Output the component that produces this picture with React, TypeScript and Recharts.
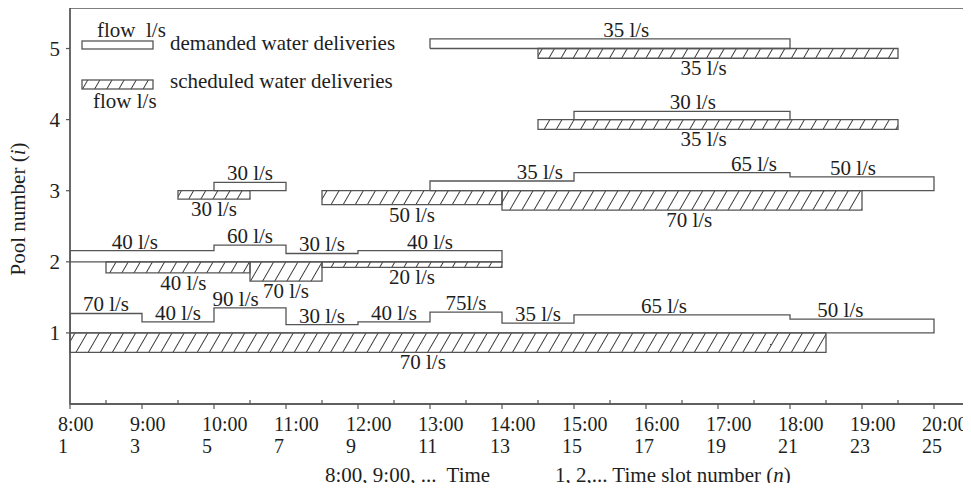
import React from 'react';
import {
  ComposedChart,
  XAxis,
  YAxis,
  Line,
  Scatter,
  ReferenceArea,
  Legend,
  Label,
} from 'recharts';

// time slot boundaries (slot n starts at 8:00 + (n-1) * 30 min)
const slotTicks = [1, 2, 3, 4, 5, 6, 7, 8, 9, 10, 11, 12, 13, 14, 15, 16, 17, 18, 19, 20, 21, 22, 23, 24, 25];
const hourLabels = ['8:00', '9:00', '10:00', '11:00', '12:00', '13:00', '14:00', '15:00', '16:00', '17:00', '18:00', '19:00', '20:00'];
const poolTicks = [1, 2, 3, 4, 5];

type Seg = { from: number; to: number; flow: number; text: string; at?: number };

// demanded water deliveries (drawn above the pool line)
const demandedPool1: Seg[] = [
  { from: 1, to: 3, flow: 70, text: '70 l/s' },
  { from: 3, to: 5, flow: 40, text: '40 l/s' },
  { from: 5, to: 7, flow: 90, text: '90 l/s', at: 5.6 },
  { from: 7, to: 9, flow: 30, text: '30 l/s' },
  { from: 9, to: 11, flow: 40, text: '40 l/s' },
  { from: 11, to: 13, flow: 75, text: '75l/s' },
  { from: 13, to: 15, flow: 35, text: '35 l/s' },
  { from: 15, to: 21, flow: 65, text: '65 l/s', at: 17.5 },
  { from: 21, to: 25, flow: 50, text: '50 l/s', at: 22.4 },
];
const demandedPool2: Seg[] = [
  { from: 1, to: 5, flow: 40, text: '40 l/s', at: 2.8 },
  { from: 5, to: 7, flow: 60, text: '60 l/s' },
  { from: 7, to: 9, flow: 30, text: '30 l/s' },
  { from: 9, to: 13, flow: 40, text: '40 l/s' },
];
const demandedPool3: Seg[] = [
  { from: 5, to: 7, flow: 30, text: '30 l/s' },
  { from: 11, to: 15, flow: 35, text: '35 l/s', at: 14.05 },
  { from: 15, to: 21, flow: 65, text: '65 l/s', at: 20 },
  { from: 21, to: 25, flow: 50, text: '50 l/s', at: 22.75 },
];
const demandedPool4: Seg[] = [{ from: 15, to: 21, flow: 30, text: '30 l/s', at: 18.3 }];
const demandedPool5: Seg[] = [{ from: 11, to: 21, flow: 35, text: '35 l/s', at: 16.45 }];

// scheduled water deliveries (hatched, below the pool line)
const scheduledPool1: Seg[] = [{ from: 1, to: 22, flow: 70, text: '70 l/s', at: 10.8 }];
const scheduledPool2: Seg[] = [
  { from: 2, to: 6, flow: 40, text: '40 l/s', at: 4.15 },
  { from: 6, to: 8, flow: 70, text: '70 l/s' },
  { from: 8, to: 13, flow: 20, text: '20 l/s' },
];
const scheduledPool3: Seg[] = [
  { from: 4, to: 6, flow: 30, text: '30 l/s' },
  { from: 8, to: 13, flow: 50, text: '50 l/s' },
  { from: 13, to: 23, flow: 70, text: '70 l/s', at: 18.2 },
];
const scheduledPool4: Seg[] = [{ from: 14, to: 24, flow: 35, text: '35 l/s', at: 18.6 }];
const scheduledPool5: Seg[] = [{ from: 14, to: 24, flow: 35, text: '35 l/s', at: 18.6 }];

const demanded = [demandedPool1, demandedPool2, demandedPool3, demandedPool4, demandedPool5];
const scheduled = [scheduledPool1, scheduledPool2, scheduledPool3, scheduledPool4, scheduledPool5];

const FLOW_TO_POOL = 0.0039; // pool units per l/s
const Y_TOP = 5.57;
const INK = '#1e1e1e';
const EDGE = '#555';
const FONT = '"Liberation Serif", "Times New Roman", serif';

// step outlines: one closed polygon for each run of adjacent segments
const outlines: { x: number; y: number }[][] = [];
demanded.forEach((segs, i) => {
  const pool = i + 1;
  let run: Seg[] = [];
  const flush = () => {
    if (!run.length) return;
    const pts = [{ x: run[0].from, y: pool }];
    run.forEach((s) => {
      pts.push({ x: s.from, y: pool + s.flow * FLOW_TO_POOL });
      pts.push({ x: s.to, y: pool + s.flow * FLOW_TO_POOL });
    });
    pts.push({ x: run[run.length - 1].to, y: pool });
    pts.push({ x: run[0].from, y: pool });
    outlines.push(pts);
    run = [];
  };
  segs.forEach((s) => {
    if (run.length && run[run.length - 1].to !== s.from) flush();
    run.push(s);
  });
  flush();
});

const flowLabels = [
  ...demanded.flatMap((segs, i) =>
    segs.map((s) => ({ x: s.at ?? (s.from + s.to) / 2, y: i + 1 + s.flow * FLOW_TO_POOL, text: s.text, up: true }))
  ),
  ...scheduled.flatMap((segs, i) =>
    segs.map((s) => ({ x: s.at ?? (s.from + s.to) / 2, y: i + 1 - s.flow * FLOW_TO_POOL, text: s.text, up: false }))
  ),
];

const FlowLabel = (props: any) => {
  const { cx, cy, payload } = props;
  return (
    <text
      x={cx}
      y={payload.up ? cy - 2 : cy + 17}
      textAnchor="middle"
      fontSize={21}
      fontFamily={FONT}
      fill={INK}
    >
      {payload.text}
    </text>
  );
};

const SlotTick = (props: any) => {
  const { x, y, payload } = props;
  const v = payload.value;
  const hour = v % 2 === 1;
  return (
    <g>
      <line x1={x} x2={x} y1={y} y2={hour ? y + 5 : y - 4} stroke={EDGE} strokeWidth={1.2} />
      {hour && (
        <text x={x - 12} y={y + 27} fontSize={20} fontFamily={FONT} fill={INK}>
          {hourLabels[(v - 1) / 2]}
        </text>
      )}
      {hour && (
        <text x={x - 12} y={y + 49} fontSize={20} fontFamily={FONT} fill={INK}>
          {v}
        </text>
      )}
    </g>
  );
};

const PoolTitle = (props: any) => {
  const vb = props.viewBox;
  const cx = vb.x + 25;
  const cy = vb.y + vb.height / 2 + 3;
  return (
    <text
      transform={`translate(${cx}, ${cy}) rotate(-90)`}
      textAnchor="middle"
      fontSize={21}
      fontFamily={FONT}
      fill={INK}
    >
      Pool number (<tspan fontStyle="italic">i</tspan>)
    </text>
  );
};

const TimeTitles = (props: any) => {
  const vb = props.viewBox;
  const y = vb.y + 78;
  return (
    <g fontSize={21} fontFamily={FONT} fill={INK}>
      <text x={vb.x + 255} y={y} style={{ whiteSpace: 'pre' }}>
        {'8:00, 9:00, ...  Time'}
      </text>
      <text x={vb.x + 485} y={y}>
        1, 2,... Time slot number (<tspan fontStyle="italic">n</tspan>)
      </text>
    </g>
  );
};

const LegendBox = () => (
  <svg width={420} height={120} style={{ fontFamily: FONT }}>
    <defs>
      <pattern id="hatchLegend" patternUnits="userSpaceOnUse" width="10.5" height="10.5" patternTransform="rotate(30)">
        <line x1="0" y1="0" x2="0" y2="10.5" stroke="#111" strokeWidth={1.6} />
      </pattern>
    </defs>
    <text x={97} y={37} fontSize={21} fill={INK} style={{ whiteSpace: 'pre' }}>
      {'flow  l/s'}
    </text>
    <rect x={82} y={41} width={71} height={8} fill="#fff" stroke={EDGE} strokeWidth={1.3} />
    <text x={170} y={50} fontSize={21} fill={INK}>
      demanded water deliveries
    </text>
    <rect x={82} y={80} width={71} height={9} fill="url(#hatchLegend)" stroke={EDGE} strokeWidth={1.3} />
    <text x={170} y={88} fontSize={21} fill={INK}>
      scheduled water deliveries
    </text>
    <text x={93} y={108} fontSize={21} fill={INK}>
      flow l/s
    </text>
  </svg>
);

const App = () => {
  return (
    <div style={{ margin: -8, width: 971, height: 491, background: '#fff' }}>
      <ComposedChart width={971} height={491} margin={{ top: 8, right: 1, left: 0, bottom: 0 }}>
        <defs>
          <pattern id="hatch" patternUnits="userSpaceOnUse" width="10.5" height="10.5" patternTransform="rotate(30)">
            <line x1="0" y1="0" x2="0" y2="10.5" stroke="#111" strokeWidth={1.6} />
          </pattern>
        </defs>
        <XAxis
          dataKey="x"
          type="number"
          domain={[1, 26]}
          ticks={slotTicks}
          interval={0}
          allowDataOverflow
          height={87}
          tickLine={false}
          tickSize={0}
          tickMargin={0}
          axisLine={{ stroke: EDGE, strokeWidth: 1.3 }}
          tick={<SlotTick />}
        >
          <Label content={<TimeTitles />} />
        </XAxis>
        <YAxis
          type="number"
          domain={[0, Y_TOP]}
          ticks={poolTicks}
          allowDataOverflow
          width={70}
          tickSize={4}
          tickMargin={6}
          tickLine={{ stroke: EDGE, strokeWidth: 1.2 }}
          axisLine={{ stroke: EDGE, strokeWidth: 1.3 }}
          tick={{ fontSize: 21, fontFamily: FONT, fill: INK }}
        >
          <Label content={<PoolTitle />} />
        </YAxis>
        <ReferenceArea x1={1} x2={26} y1={0} y2={Y_TOP} fill="none" stroke={EDGE} strokeWidth={1.3} />
        {scheduled.flatMap((segs, i) =>
          segs.map((s, j) => (
            <ReferenceArea
              key={`s${i}-${j}`}
              x1={s.from}
              x2={s.to}
              y1={i + 1 - s.flow * FLOW_TO_POOL}
              y2={i + 1}
              fill="url(#hatch)"
              fillOpacity={1}
              stroke={EDGE}
              strokeWidth={1.3}
            />
          ))
        )}
        {outlines.map((pts, k) => (
          <Line
            key={`d${k}`}
            data={pts}
            dataKey="y"
            type="linear"
            stroke={EDGE}
            strokeWidth={1.3}
            dot={false}
            activeDot={false}
            legendType="none"
            isAnimationActive={false}
          />
        ))}
        <Scatter data={flowLabels} dataKey="y" shape={<FlowLabel />} legendType="none" isAnimationActive={false} />
        <Legend
          layout="horizontal"
          verticalAlign="middle"
          align="center"
          wrapperStyle={{ position: 'absolute', left: 0, top: 0, width: 420, height: 120, pointerEvents: 'none' }}
          content={<LegendBox />}
        />
      </ComposedChart>
    </div>
  );
};

export default App;
